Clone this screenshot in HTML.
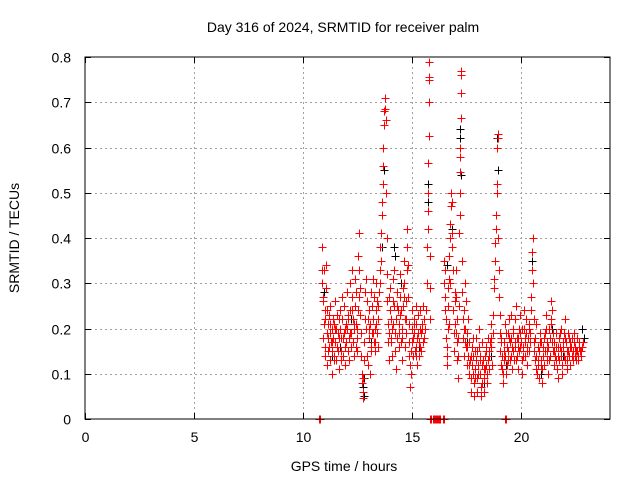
<!DOCTYPE html>
<html><head><meta charset="utf-8"><style>
body{margin:0;background:#fff}
svg{display:block;font-family:"Liberation Sans",sans-serif}
</style></head><body>
<svg id="chart" width="640" height="480" viewBox="0 0 640 480">
<rect width="640" height="480" fill="#fff"/>
<g id="grid"></g>
<g id="axes"></g>
<g id="marks"></g>
<rect x="85" y="57" width="525" height="362" fill="none" stroke="#000" stroke-width="1"/>
<text x="343" y="32" text-anchor="middle" font-size="14">Day 316 of 2024, SRMTID for receiver palm</text>
<text x="344" y="471" text-anchor="middle" font-size="14">GPS time / hours</text>
<text x="19" y="238" text-anchor="middle" font-size="14" transform="rotate(-90 19 238)">SRMTID / TECUs</text>
</svg>
<script>
const xTicks=[0,5,10,15,20];
const yTicks=[0,0.1,0.2,0.3,0.4,0.5,0.6,0.7,0.8];
const yTickLabels=["0","0.1","0.2","0.3","0.4","0.5","0.6","0.7","0.8"];
const blackHours=[10.95,11.3,11.7,12.2,12.75,12.78,12.8,13.1,13.6,13.7,14.15,14.2,14.5,14.9,15.3,15.72,15.74,16.6,16.8,17.17,17.2,17.22,17.5,17.85,18.3,18.6,18.9,18.93,19.3,19.8,20.5,20.9,21.4,21.9,22.4,22.8,22.85];
const blackValues=[0.28,0.14,0.16,0.22,0.07,0.09,0.05,0.17,0.38,0.55,0.38,0.36,0.3,0.12,0.16,0.52,0.48,0.34,0.42,0.64,0.62,0.54,0.17,0.05,0.08,0.14,0.62,0.55,0.12,0.14,0.35,0.1,0.2,0.14,0.17,0.2,0.18];
const redHours=[10.87,10.86,10.88,10.90,10.92,10.94,10.96,10.98,11.00,11.02,11.04,11.06,11.08,11.10,11.12,11.14,11.17,11.19,11.21,11.23,11.25,11.28,11.30,11.32,11.34,11.36,11.39,11.41,11.43,11.45,11.48,11.50,11.52,11.54,11.57,11.59,11.61,11.63,11.66,11.68,11.70,11.72,11.75,11.77,11.79,11.82,11.84,11.86,11.88,11.91,11.93,11.95,11.97,12.00,12.02,12.04,12.06,12.09,12.11,12.13,12.15,12.18,12.20,12.22,12.25,12.27,12.29,12.31,12.34,12.36,12.38,12.41,12.43,12.45,12.47,12.50,12.52,12.55,12.57,12.59,12.61,12.64,12.66,12.68,12.70,12.72,12.74,12.76,12.78,12.80,12.83,12.85,12.87,12.89,12.92,12.94,12.96,12.98,13.00,13.03,13.05,13.07,13.09,13.12,13.14,13.16,13.18,13.21,13.23,13.25,13.28,13.30,13.33,13.35,13.37,13.40,13.42,13.45,13.47,13.50,13.52,13.55,13.57,13.60,13.62,13.64,13.66,13.68,13.70,13.72,13.74,13.76,13.78,13.80,13.82,13.84,13.86,13.88,13.90,13.92,13.95,13.97,14.00,14.02,14.04,14.07,14.09,14.11,14.14,14.16,14.18,14.20,14.23,14.25,14.27,14.30,14.32,14.34,14.37,14.39,14.42,14.44,14.46,14.49,14.51,14.53,14.56,14.58,14.60,14.63,14.65,14.67,14.70,14.72,14.74,14.76,14.78,14.80,14.82,14.85,14.87,14.89,14.91,14.93,14.96,14.98,15.00,15.03,15.05,15.07,15.10,15.12,15.15,15.17,15.19,15.22,15.24,15.27,15.29,15.32,15.34,15.37,15.40,15.42,15.45,15.48,15.52,15.56,15.60,15.64,15.67,15.69,15.71,15.72,15.73,15.74,15.75,15.76,15.77,15.78,15.79,15.80,15.81,15.83,16.45,16.47,16.49,16.51,16.53,16.55,16.57,16.59,16.62,16.64,16.66,16.68,16.70,16.72,16.74,16.76,16.78,16.80,16.82,16.84,16.86,16.88,16.90,16.92,16.95,16.97,16.99,17.01,17.03,17.05,17.07,17.09,17.11,17.13,17.15,17.17,17.18,17.19,17.20,17.21,17.22,17.23,17.24,17.25,17.27,17.29,17.31,17.33,17.35,17.38,17.40,17.42,17.45,17.47,17.49,17.52,17.54,17.57,17.59,17.62,17.64,17.67,17.69,17.72,17.74,17.77,17.79,17.82,17.84,17.87,17.89,17.92,17.94,17.97,17.99,18.02,18.04,18.07,18.09,18.12,18.14,18.17,18.19,18.22,18.24,18.27,18.29,18.32,18.34,18.37,18.40,18.42,18.45,18.48,18.50,18.53,18.56,18.59,18.62,18.65,18.68,18.71,18.74,18.77,18.79,18.81,18.83,18.85,18.87,18.88,18.90,18.91,18.92,18.94,18.96,18.98,19.00,19.02,19.04,19.07,19.09,19.12,19.14,19.17,19.20,19.22,19.25,19.27,19.30,19.33,19.35,19.38,19.40,19.43,19.46,19.48,19.51,19.54,19.56,19.59,19.62,19.64,19.67,19.70,19.72,19.75,19.78,19.80,19.83,19.86,19.88,19.91,19.94,19.96,19.99,20.02,20.04,20.07,20.10,20.12,20.15,20.18,20.20,20.23,20.26,20.28,20.31,20.34,20.37,20.40,20.43,20.46,20.48,20.50,20.52,20.54,20.56,20.58,20.61,20.64,20.66,20.69,20.72,20.75,20.78,20.80,20.83,20.86,20.88,20.91,20.94,20.97,21.00,21.02,21.05,21.08,21.11,21.13,21.16,21.19,21.22,21.24,21.27,21.30,21.33,21.35,21.38,21.41,21.44,21.46,21.49,21.52,21.55,21.58,21.60,21.63,21.66,21.69,21.72,21.74,21.77,21.80,21.83,21.86,21.88,21.91,21.94,21.97,22.00,22.02,22.05,22.08,22.11,22.13,22.16,22.19,22.22,22.24,22.27,22.30,22.33,22.36,22.38,22.41,22.44,22.47,22.50,22.53,22.56,22.60,22.64,22.68,22.72,22.76,10.73,10.75,15.83,15.88,15.93,15.98,16.03,16.08,16.13,16.18,16.23,16.28,16.42,16.45,19.27,19.29];
const redValues=[.38,.30,.33,.27,.26,.33,.21,.16,.14,.22,.29,.34,.24,.12,.18,.21,.23,.16,.13,.19,.25,.17,.20,.10,.15,.22,.18,.14,.21,.17,.26,.20,.13,.16,.23,.19,.15,.11,.18,.24,.20,.15,.13,.27,.22,.18,.14,.19,.25,.16,.12,.21,.17,.28,.20,.15,.23,.18,.13,.30,.24,.19,.16,.27,.33,.22,.17,.14,.20,.25,.31,.28,.21,.18,.15,.24,.36,.41,.33,.29,.23,.19,.14,.10,.08,.06,.046,.09,.13,.17,.22,.28,.31,.20,.14,.26,.22,.12,.18,.24,.10,.21,.28,.16,.19,.25,.31,.22,.17,.27,.20,.15,.24,.30,.26,.19,.16,.22,.28,.33,.38,.35,.41,.45,.48,.52,.56,.60,.65,.68,.685,.71,.66,.50,.40,.32,.26,.21,.17,.13,.19,.24,.29,.22,.17,.14,.20,.26,.31,.33,.25,.19,.15,.11,.22,.28,.18,.24,.16,.21,.27,.32,.23,.17,.13,.20,.25,.29,.35,.30,.22,.16,.19,.26,.33,.38,.42,.34,.27,.21,.17,.12,.07,.10,.15,.20,.24,.18,.14,.22,.19,.15,.25,.21,.16,.12,.18,.23,.17,.14,.20,.24,.19,.15,.21,.17,.22,.18,.20,.24,.30,.38,.42,.46,.50,.565,.625,.70,.75,.755,.79,.36,.29,.22,.30,.35,.33,.27,.22,.18,.14,.12,.20,.25,.29,.31,.36,.40,.43,.47,.50,.48,.41,.38,.33,.24,.19,.15,.21,.28,.33,.27,.22,.17,.13,.09,.18,.25,.41,.45,.50,.545,.58,.60,.665,.72,.76,.77,.35,.28,.22,.18,.14,.24,.20,.30,.26,.16,.12,.19,.22,.14,.10,.17,.13,.09,.06,.12,.16,.10,.14,.08,.05,.11,.15,.18,.13,.09,.06,.12,.16,.20,.14,.10,.07,.05,.12,.17,.13,.09,.06,.14,.11,.16,.12,.08,.13,.18,.15,.11,.17,.21,.16,.12,.19,.23,.31,.29,.35,.39,.42,.45,.50,.52,.60,.62,.63,.40,.33,.27,.23,.19,.15,.12,.18,.14,.10,.08,.13,.17,.21,.14,.10,.16,.12,.19,.15,.22,.17,.13,.18,.23,.16,.11,.15,.19,.13,.17,.22,.25,.18,.14,.11,.16,.20,.15,.19,.23,.17,.13,.10,.16,.20,.24,.17,.14,.19,.22,.16,.12,.18,.21,.15,.19,.24,.27,.33,.37,.40,.30,.22,.17,.13,.18,.21,.14,.10,.16,.12,.09,.15,.19,.13,.17,.11,.08,.14,.18,.12,.15,.20,.23,.17,.13,.10,.16,.20,.14,.18,.22,.26,.24,.19,.15,.12,.17,.14,.19,.16,.11,.09,.14,.18,.13,.16,.20,.15,.12,.10,.16,.19,.14,.18,.22,.17,.13,.11,.15,.19,.14,.17,.12,.16,.14,.18,.15,.13,.17,.14,.16,.13,.18,.15,.14,.17,.15,.14,.16,0,0,0,0,0,0,0,0,0,0,0,0,0,0,0,0];
const extraHours=[10.91,10.99,11.07,11.15,11.24,11.31,11.40,11.47,11.56,11.64,11.73,11.81,11.90,11.98,12.07,12.16,12.24,12.33,12.42,12.49,12.58,13.01,13.10,13.19,13.27,13.36,13.44,13.53,13.94,14.03,14.12,14.21,14.29,14.38,14.47,14.55,14.64,14.73,14.84,15.01,15.09,15.18,15.26,15.35,15.44,15.51,16.50,16.58,16.67,16.75,16.94,17.02,17.10,17.36,17.44,17.53,17.61,17.70,17.78,17.86,17.95,18.03,18.11,18.20,18.28,18.36,18.44,18.52,18.60,19.05,19.13,19.21,19.29,19.37,19.45,19.53,19.61,19.69,19.77,19.85,19.93,20.01,20.09,20.17,20.25,20.33,20.41,20.60,20.68,20.76,20.84,20.92,21.01,21.09,21.17,21.25,21.34,21.42,21.50,21.59,21.67,21.75,21.84,21.92,22.01,22.09,22.17,22.25,22.34,22.42,22.50,22.58,22.66,22.74,22.81];
const extraValues=[.18,.24,.19,.15,.21,.17,.13,.20,.16,.22,.18,.14,.20,.17,.22,.19,.24,.21,.16,.20,.27,.20,.15,.19,.17,.21,.25,.30,.27,.18,.21,.15,.25,.19,.24,.18,.27,.22,.14,.17,.21,.14,.19,.16,.20,.25,.24,.16,.21,.30,.26,.19,.14,.20,.17,.16,.12,.14,.18,.09,.15,.10,.13,.08,.11,.15,.10,.14,.18,.17,.11,.15,.19,.13,.18,.14,.20,.16,.13,.18,.16,.20,.14,.18,.15,.20,.17,.15,.11,.13,.17,.12,.16,.19,.15,.13,.21,.17,.15,.13,.16,.19,.14,.17,.13,.15,.18,.16,.14,.19,.15,.13,.16,.15,.17,.14];

const X0=85,X1=608.6,Y0=419,Y1=57;
function xScale(h){return X0+(h/24)*(X1-X0);}
function yScale(v){return Y0-(v/0.8)*(Y0-Y1);}
const NS="http://www.w3.org/2000/svg";
function mk(tag,attrs,parent){const e=document.createElementNS(NS,tag);for(const k in attrs)e.setAttribute(k,attrs[k]);parent.appendChild(e);return e;}
const grid=document.getElementById('grid'),axes=document.getElementById('axes'),marks=document.getElementById('marks');
xTicks.forEach((t,i)=>{
  const x=Math.round(xScale(t))+0.5;
  if(t>0){const g=mk('line',{x1:x,x2:x,y1:Y1,y2:Y0,stroke:'#a0a0a0','stroke-dasharray':'2,3'},grid);
  
  }
  mk('line',{x1:x,x2:x,y1:Y0,y2:Y0-6,stroke:'#000'},axes);
  mk('line',{x1:x,x2:x,y1:Y1,y2:Y1+6,stroke:'#000'},axes);
  const l=mk('text',{x:x,y:442,'text-anchor':'middle','font-size':14},axes);
  l.textContent=String(t);
  
  
});
yTicks.forEach((t,i)=>{
  const y=Math.round(yScale(t))+0.5;
  if(t>0&&t<0.8){const g=mk('line',{x1:X0,x2:610,y1:y,y2:y,stroke:'#a0a0a0','stroke-dasharray':'2,3'},grid);
  
  }
  mk('line',{x1:X0,x2:X0+6,y1:y,y2:y,stroke:'#000'},axes);
  mk('line',{x1:610,x2:604,y1:y,y2:y,stroke:'#000'},axes);
  const l=mk('text',{x:71,y:y+5,'text-anchor':'end','font-size':14},axes);
  l.textContent=yTickLabels[i];
  
  
});
function plus(h,v,color,name){
  const x=Math.round(xScale(h))+0.5,y=Math.round(yScale(v))+0.5;
  const p=mk('path',{d:`M${x-4} ${y}H${x+4}M${x} ${y-4}V${y+4}`,stroke:color,'stroke-width':1,fill:'none'},marks);
  
  
}
blackHours.forEach((h,i)=>plus(h,blackValues[i],'#000','black-point'));
redHours.forEach((h,i)=>plus(h,redValues[i],'#ff0000','red-point'));
extraHours.forEach((h,i)=>plus(h,extraValues[i],'#ff0000','red-point'));
</script>
</body></html>
